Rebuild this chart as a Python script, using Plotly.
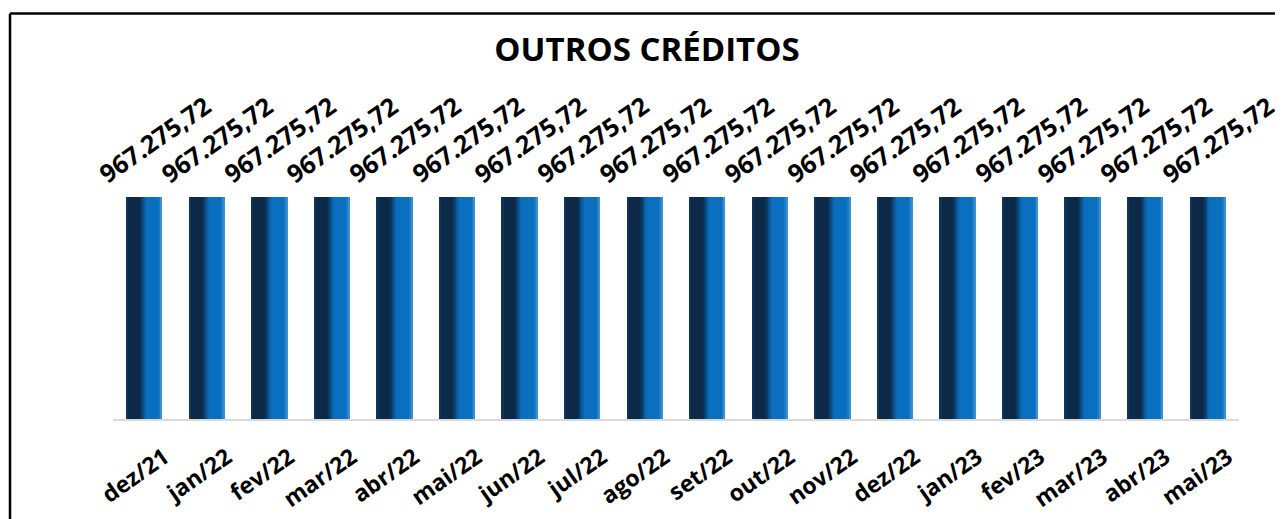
import plotly.graph_objects as go

categories = ["dez/21", "jan/22", "fev/22", "mar/22", "abr/22", "mai/22", "jun/22",
              "jul/22", "ago/22", "set/22", "out/22", "nov/22", "dez/22", "jan/23",
              "fev/23", "mar/23", "abr/23", "mai/23"]
values = [967275.72] * 18
labels = ["967.275,72"] * 18
title_text = "OUTROS CRÉDITOS"

# the page body adds an 8 px margin; compensate so pixel targets match the window
OFF = 8
W, H = 1283 - OFF, 519 - OFF
ML = 113 - OFF
MR = 52 - OFF
MB = 100  # bottom of plot at window y=419
YMAX = 1.2e6
bar_px = 222.0
plot_h = bar_px * YMAX / values[0]
MT = H - MB - plot_h
plot_w = W - ML - MR

FONT = "Open Sans"
BW = 0.58

fig = go.Figure()

stripes = [
    (0.00, 1.00, "#0b6fc0"),
    (0.00, 0.56, "#0a68b4"),
    (0.00, 0.52, "#0a5c9f"),
    (0.00, 0.48, "#094c85"),
    (0.00, 0.44, "#083c68"),
    (0.00, 0.40, "#0b2f52"),
    (0.00, 0.36, "#0c2a48"),
    (0.00, 0.06, "#0e3457"),
    (0.90, 0.96, "#1a7bc8"),
    (0.96, 1.00, "#3d8fd0"),
]
for i, (s, e, col) in enumerate(stripes):
    fig.add_trace(go.Bar(
        x=categories, y=values,
        width=BW * (e - s), offset=-BW / 2 + BW * s,
        marker=dict(color=col, line=dict(width=0),
                    cornerradius=5 if i == 0 else 0),
        hoverinfo="skip", showlegend=False,
    ))

for c, v, t in zip(categories, values, labels):
    fig.add_annotation(x=c, y=v, xref="x", yref="y", text=t, showarrow=False,
                       textangle=-35, xanchor="center", yanchor="bottom",
                       xshift=10, yshift=5,
                       font=dict(family=FONT, size=25, color="#000000", weight="bold"))

def px_to_paper_x(px):
    return (px - OFF - ML) / plot_w

def px_to_paper_y(py):
    return (H - MB - (py - OFF)) / plot_h

fig.add_shape(type="line", xref="paper", yref="paper",
              x0=px_to_paper_x(10), x1=px_to_paper_x(1300),
              y0=px_to_paper_y(13), y1=px_to_paper_y(13),
              line=dict(color="#000000", width=2.5))
fig.add_shape(type="line", xref="paper", yref="paper",
              x0=px_to_paper_x(10), x1=px_to_paper_x(10),
              y0=px_to_paper_y(13), y1=px_to_paper_y(540),
              line=dict(color="#000000", width=2.5))

fig.update_layout(
    width=W, height=H,
    margin=dict(l=ML, r=MR, t=MT, b=MB, autoexpand=False),
    paper_bgcolor="white", plot_bgcolor="white",
    barmode="overlay", bargap=0,
    title=dict(text="<b>" + title_text + "</b>", x=(647 - OFF) / W, xanchor="center",
               y=1 - (49 - OFF) / H, yanchor="middle",
               font=dict(family=FONT, size=33, color="#000000")),
    xaxis=dict(type="category", range=[-0.5, len(categories) - 0.5],
               showgrid=False, zeroline=False,
               showline=True, linecolor="#d9d9d9", linewidth=2,
               ticks="", tickangle=-35, ticklabelshift=20, ticklabelstandoff=14,
               tickfont=dict(family=FONT, size=23, color="#000000", weight="bold")),
    yaxis=dict(range=[0, YMAX], visible=False, showgrid=False, zeroline=False),
    showlegend=False,
)

fig.write_html("out.html")
